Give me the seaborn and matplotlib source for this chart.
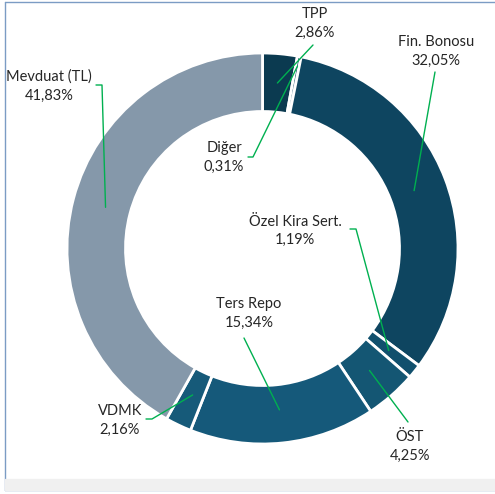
"""Donut chart of portfolio distribution."""
import matplotlib
matplotlib.use("Agg")
import matplotlib.pyplot as plt
from matplotlib.patches import Rectangle
import seaborn as sns
import numpy as np

# data (clockwise from 12 o'clock)
categories = ['TPP', 'Diğer', 'Fin. Bonosu', 'Özel Kira Sert.', 'ÖST',
              'Ters Repo', 'VDMK', 'Mevduat (TL)']
shares = [2.86, 0.31, 32.05, 1.19, 4.25, 15.34, 2.16, 41.83]
colors = ['#0b3a50', '#0f4863', '#0e4560', '#11506d', '#145673',
          '#15597a', '#165a79', '#8598aa']

W, H = 495, 494
CX, CY, R, RING = 262.5, 248.5, 195.5, 58.5

# label layout in pixel coords: (x, y of name line, y of value line)
label_pos = {
    'TPP': (315, 14, 33),
    'Diğer': (224, 148, 167),
    'Fin. Bonosu': (436, 42, 61),
    'Özel Kira Sert.': (295, 222, 240),
    'ÖST': (410, 437, 456),
    'Ters Repo': (249, 304, 323),
    'VDMK': (120, 411, 430),
    'Mevduat (TL)': (49, 77, 96),
}
# leader line start (near label) and optional elbow end
leader_start = {
    'TPP': [(313, 45)],
    'Diğer': [(248, 157), (253, 157)],
    'Fin. Bonosu': [(435, 72)],
    'Özel Kira Sert.': [(350, 229), (356, 229)],
    'ÖST': [(408, 422)],
    'Ters Repo': [(244, 338)],
    'VDMK': [(146, 419), (152, 419)],
    'Mevduat (TL)': [(96, 85), (102, 85)],
}
anchor_frac = {'TPP': 0.85, 'Diğer': 0.95}

sns.set_theme(style="white")
plt.rcParams['font.family'] = ['Lato', 'DejaVu Sans']

fig = plt.figure(figsize=(W / 100, H / 100), dpi=100)
ax = fig.add_axes([0, 0, 1, 1])

ax.pie(shares, colors=colors, radius=R, center=(CX, H - CY),
       startangle=90, counterclock=False,
       wedgeprops=dict(width=RING, edgecolor='white', linewidth=2))
ax.set_aspect('auto')
ax.set_xlim(0, W)
ax.set_ylim(0, H)
ax.axis('off')

total = sum(shares)
cum = np.cumsum(shares)
for name, v, c in zip(categories, shares, cum):
    ang = np.deg2rad((c - v / 2) / total * 360)
    r = R * anchor_frac.get(name, 0.83)
    ax_x = CX + r * np.sin(ang)
    ax_y = CY - r * np.cos(ang)
    pts = leader_start[name] + [(ax_x, ax_y)]
    ax.plot([p[0] for p in pts], [H - p[1] for p in pts],
            color='#00b050', linewidth=1)

    x, y1, y2 = label_pos[name]
    pct = f"{v:.2f}".replace('.', ',') + '%'
    ax.text(x, H - y1, name, ha='center', va='center', fontsize=10.5, color='#262626')
    ax.text(x, H - y2, pct, ha='center', va='center', fontsize=10.5, color='#262626')

# surrounding frame like the source screenshot
border = '#7b9cc4'
fig.patches.append(Rectangle((5 / W, (H - 490) / H), 1, 11 / H,
                             transform=fig.transFigure, color='#f0f0f0', zorder=0))
ax.plot([5, 5], [H - 2, H - 490], color=border, linewidth=1)
ax.plot([5, W], [H - 2, H - 2], color=border, linewidth=1)
ax.plot([5, W], [H - 490, H - 490], color=border, linewidth=1)

plt.savefig('out.png', dpi=100)
